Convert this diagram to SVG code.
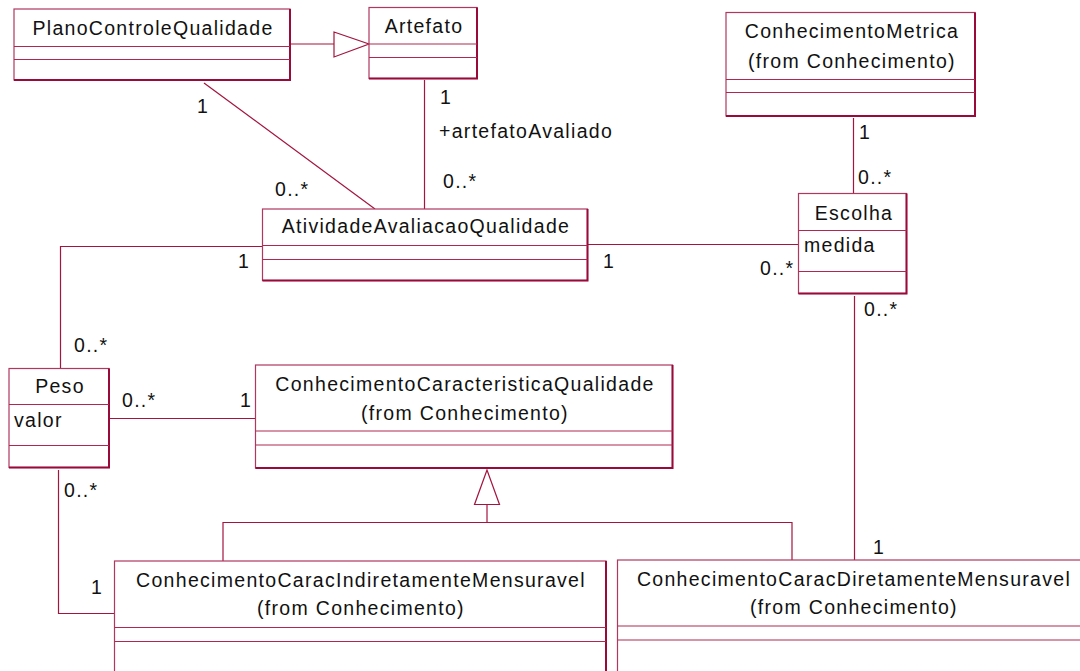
<svg xmlns="http://www.w3.org/2000/svg" width="1080" height="671" viewBox="0 0 1080 671">
<style>
.box{fill:#fff;stroke:#b03860;stroke-width:1.2}
.edge{stroke:#990a3a;stroke-width:2;fill:none}
.div{stroke:#b02850;stroke-width:1.2}
.c{fill:none;stroke:#a3143f;stroke-width:1.2}
.tri{fill:#fff;stroke:#a3143f;stroke-width:1.2}
text{font-family:"Liberation Sans",Arial,sans-serif;font-size:19.5px;fill:#111;letter-spacing:1.3px}
.m{text-anchor:middle}
</style>
<rect width="1080" height="671" fill="#fff"/>
<g id="connectors">
<line class="c" x1="290" y1="44" x2="334" y2="44"/>
<polygon class="tri" points="334,32 369,44 334,57"/>
<line class="c" x1="204" y1="83" x2="375" y2="209"/>
<line class="c" x1="424.5" y1="80" x2="424.5" y2="209"/>
<line class="c" x1="853.5" y1="118" x2="853.5" y2="193.5"/>
<line class="c" x1="588" y1="244.5" x2="798.5" y2="244.5"/>
<polyline class="c" points="262,246.5 60.5,246.5 60.5,368.5"/>
<line class="c" x1="110" y1="418.5" x2="255.5" y2="418.5"/>
<line class="c" x1="854.5" y1="296" x2="854.5" y2="560"/>
<polygon class="tri" points="487,470 474.5,504.5 499.5,504.5"/>
<line class="c" x1="487" y1="504.5" x2="487" y2="522.5"/>
<polyline class="c" points="223,561 223,522.5 792,522.5 792,560"/>
<polyline class="c" points="58.5,470 58.5,613.5 114.5,613.5"/>
</g>
<g id="labels">
<text x="197" y="113">1</text>
<text x="275" y="196">0..*</text>
<text x="440" y="104">1</text>
<text x="439" y="138">+artefatoAvaliado</text>
<text x="443" y="188">0..*</text>
<text x="859" y="139">1</text>
<text x="858" y="184">0..*</text>
<text x="760" y="275">0..*</text>
<text x="603" y="268">1</text>
<text x="238" y="268">1</text>
<text x="74" y="352">0..*</text>
<text x="122" y="407">0..*</text>
<text x="240" y="407">1</text>
<text x="64" y="497">0..*</text>
<text x="91" y="594">1</text>
<text x="864" y="316">0..*</text>
<text x="873" y="554">1</text>
</g>
<g id="PlanoControleQualidade">
<rect class="box" x="14" y="9" width="276" height="71"/>
<polyline class="edge" points="290,9 290,80 14,80"/>
<line class="div" x1="14" y1="46.5" x2="290" y2="46.5"/>
<line class="div" x1="14" y1="59.5" x2="290" y2="59.5"/>
<text class="m" x="153" y="35">PlanoControleQualidade</text>
</g>
<g id="Artefato">
<rect class="box" x="369" y="7.5" width="108" height="71"/>
<polyline class="edge" points="477,7.5 477,78.5 369,78.5"/>
<line class="div" x1="369" y1="44" x2="477" y2="44"/>
<line class="div" x1="369" y1="57.5" x2="477" y2="57.5"/>
<text class="m" x="424" y="33">Artefato</text>
</g>
<g id="ConhecimentoMetrica">
<rect class="box" x="726" y="12.5" width="249" height="103.5"/>
<polyline class="edge" points="975,12.5 975,116 726,116"/>
<line class="div" x1="726" y1="79.5" x2="975" y2="79.5"/>
<line class="div" x1="726" y1="92.5" x2="975" y2="92.5"/>
<text class="m" x="852" y="38">ConhecimentoMetrica</text>
<text class="m" x="852" y="68">(from Conhecimento)</text>
</g>
<g id="Escolha">
<rect class="box" x="798.5" y="193.5" width="108" height="100"/>
<polyline class="edge" points="906.5,193.5 906.5,293.5 798.5,293.5"/>
<line class="div" x1="798.5" y1="230.5" x2="906.5" y2="230.5"/>
<line class="div" x1="798.5" y1="271.5" x2="906.5" y2="271.5"/>
<text class="m" x="854" y="220">Escolha</text>
<text x="804" y="252">medida</text>
</g>
<g id="AtividadeAvaliacaoQualidade">
<rect class="box" x="262.5" y="209" width="325" height="71.5"/>
<polyline class="edge" points="587.5,209 587.5,280.5 262.5,280.5"/>
<line class="div" x1="262.5" y1="245.5" x2="587.5" y2="245.5"/>
<line class="div" x1="262.5" y1="259.5" x2="587.5" y2="259.5"/>
<text class="m" x="426" y="233">AtividadeAvaliacaoQualidade</text>
</g>
<g id="Peso">
<rect class="box" x="9" y="368.5" width="100" height="99"/>
<polyline class="edge" points="109,368.5 109,467.5 9,467.5"/>
<line class="div" x1="9" y1="404.5" x2="109" y2="404.5"/>
<line class="div" x1="9" y1="445.5" x2="109" y2="445.5"/>
<text class="m" x="60" y="393">Peso</text>
<text x="14" y="427">valor</text>
</g>
<g id="ConhecimentoCaracteristicaQualidade">
<rect class="box" x="255.5" y="365" width="417" height="103"/>
<polyline class="edge" points="672.5,365 672.5,468 255.5,468"/>
<line class="div" x1="255.5" y1="431" x2="672.5" y2="431"/>
<line class="div" x1="255.5" y1="445" x2="672.5" y2="445"/>
<text class="m" x="465" y="391">ConhecimentoCaracteristicaQualidade</text>
<text class="m" x="465" y="420">(from Conhecimento)</text>
</g>
<g id="ConhecimentoCaracIndiretamenteMensuravel">
<rect class="box" x="114.5" y="561" width="491.5" height="120"/>
<line class="edge" x1="606" y1="561" x2="606" y2="681"/>
<line class="div" x1="114.5" y1="627.5" x2="606" y2="627.5"/>
<line class="div" x1="114.5" y1="641.5" x2="606" y2="641.5"/>
<text class="m" x="361" y="587">ConhecimentoCaracIndiretamenteMensuravel</text>
<text class="m" x="361" y="615">(from Conhecimento)</text>
</g>
<g id="ConhecimentoCaracDiretamenteMensuravel">
<rect class="box" x="617.5" y="560" width="470" height="120"/>
<line class="div" x1="617.5" y1="626" x2="1087.5" y2="626"/>
<line class="div" x1="617.5" y1="640" x2="1087.5" y2="640"/>
<text class="m" x="854" y="586">ConhecimentoCaracDiretamenteMensuravel</text>
<text class="m" x="854" y="614">(from Conhecimento)</text>
</g>
</svg>
